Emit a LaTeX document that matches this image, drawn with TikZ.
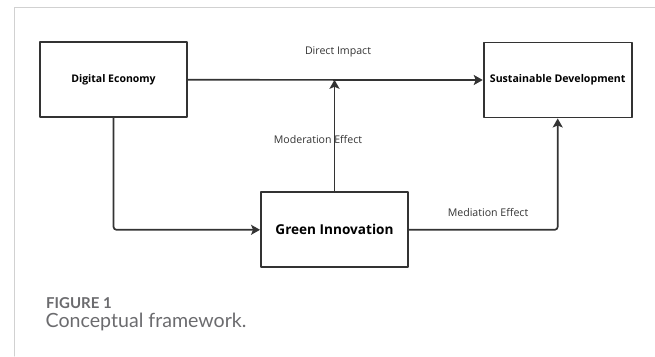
\documentclass[tikz,border=0pt]{standalone}
\usepackage{fontspec}
\setmainfont{Open Sans}
\newfontfamily\capfont{Lato}
\usetikzlibrary{arrows.meta}
\definecolor{boxline}{rgb}{0.2,0.2,0.2}
\definecolor{framegray}{rgb}{0.82,0.82,0.82}
\definecolor{capgray}{rgb}{0.42,0.42,0.43}

\begin{document}
\begin{tikzpicture}[line cap=round,line join=round,x=1pt,y=-1pt,
  >={Stealth[length=9pt,width=10pt,inset=2pt]},
  block/.style={draw=boxline,line width=1.9pt,fill=white,minimum width=147pt,minimum height=75pt,inner sep=0pt},
  link/.style={->,draw=boxline,line width=1.7pt},
  lbl/.style={text=boxline,font=\fontsize{10.6}{12}\selectfont,inner sep=0pt}]
\useasboundingbox (0,0) rectangle (655,356);
\draw [color=framegray,line width=1pt] (14.3,356) -- (14.3,7.3) -- (655,7.3);
% boxes
\node [block,font=\bfseries\fontsize{10.5}{12}\selectfont] (econ) at (113.5,79.8) {Digital Economy};
\node [block,minimum width=148pt,font=\bfseries\fontsize{10.6}{12}\selectfont] (sust) at (557.7,80) {Sustainable Development};
\node [block,font=\bfseries\fontsize{13.6}{15}\selectfont] (green) at (334.5,229.8) {Green Innovation};
% connectors
\draw [link] (econ.east) -- (sust.west);
\draw [link] (green.north) -- (green.north |- econ.east);
\draw [link,rounded corners=3pt] (econ.south) |- (green.west);
\draw [link,rounded corners=3pt] (green.east) -| (sust.south);
% labels
\node [lbl] (direct) at (338,52) {Direct Impact};
\node [lbl] (moder) at (318,139) {Moderation Effect};
\node [lbl] (media) at (488,212) {Mediation Effect};
% caption
\node [anchor=base west,inner sep=0pt,text=capgray,font=\capfont\bfseries\fontsize{15}{17}\selectfont] (fignum) at (46,308) {FIGURE 1};
\node [anchor=base west,inner sep=0pt,text=capgray,font=\capfont\fontsize{19.6}{21}\selectfont] (figcap) at (45.5,327) {Conceptual framework.};
\end{tikzpicture}
\end{document}
